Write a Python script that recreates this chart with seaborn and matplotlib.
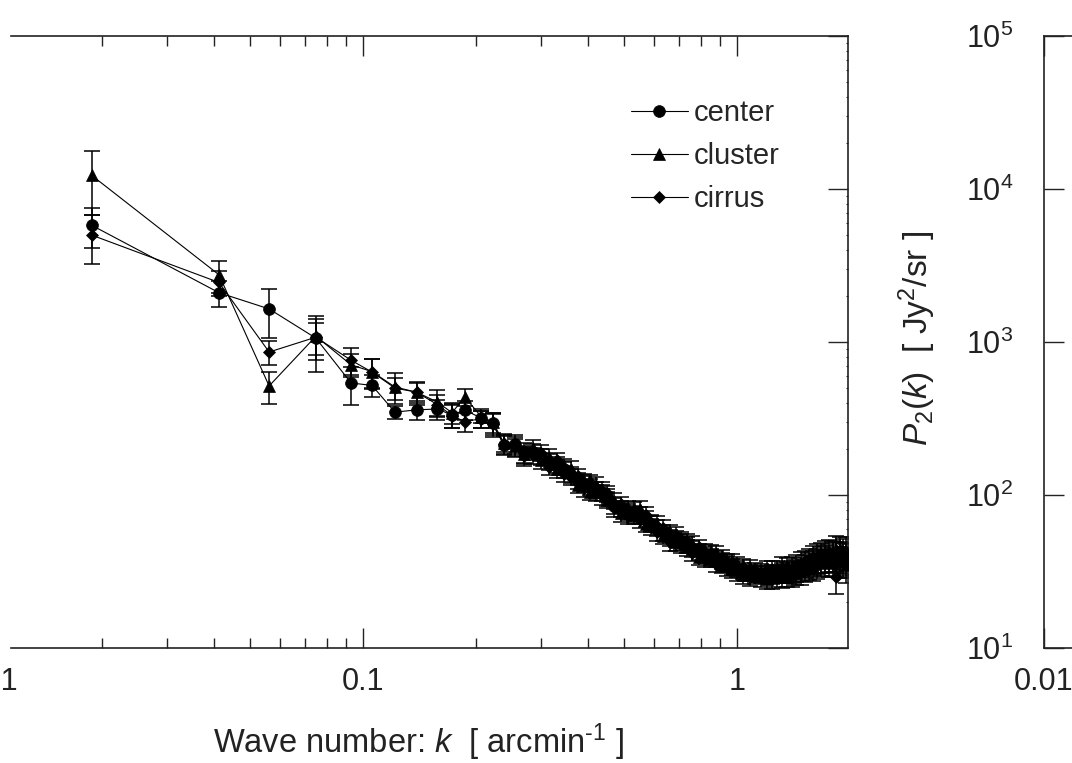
import numpy as np
import pandas as pd
import matplotlib
matplotlib.use("Agg")
import matplotlib.pyplot as plt
import seaborn as sns
from matplotlib.ticker import FixedLocator, FixedFormatter, LogLocator, NullFormatter, LogFormatterSciNotation

# ---------------- data ----------------
k_sparse = [0.0188, 0.0412, 0.0561, 0.0748, 0.0929, 0.1057, 0.1217, 0.139, 0.158,
            0.173, 0.187, 0.207, 0.222, 0.238, 0.255, 0.270]
center_sparse = [5800, 2100, 1645, 1060, 540, 520, 348, 360, 365, 333, 360, 318, 296, 212, 215, 190]
cluster_sparse = [12300, 2750, 516, 1090, 710, 640, 508, 470, 405, 345, 438, 325, 300, 220, 210, 185]
cirrus_sparse = [5000, 2450, 860, 1075, 760, 636, 500, 470, 390, 330, 302, 315, 290, 215, 205, 180]
center_err_sparse = [1700, 400, 580, 420, 150, 85, 35, 52, 55, 60, 50, 45, 50, 30, 30, 28]
cluster_err_sparse = [5500, 650, 120, 330, 120, 140, 115, 80, 80, 55, 55, 30, 45, 30, 30, 25]
cirrus_err_sparse = [1750, 450, 150, 250, 150, 140, 80, 70, 62, 55, 44, 40, 50, 30, 28, 25]

k_dense = [0.285, 0.30, 0.315, 0.33, 0.345, 0.36, 0.375, 0.39, 0.405, 0.42,
           0.435, 0.45, 0.47, 0.49, 0.51, 0.53, 0.55, 0.57, 0.59, 0.61,
           0.635, 0.66, 0.685, 0.71, 0.735, 0.76, 0.79, 0.82, 0.85, 0.88,
           0.91, 0.94, 0.97, 1.00, 1.04, 1.08, 1.12, 1.16, 1.20, 1.24,
           1.28, 1.32, 1.36, 1.40, 1.44, 1.48, 1.52, 1.56, 1.60, 1.64,
           1.68, 1.72, 1.76, 1.80, 1.84, 1.88, 1.92, 1.96]
center_dense = [192, 178, 165, 158, 147, 136, 124, 118, 114, 109,
                104, 97, 85, 81, 78, 76, 74, 70, 65, 61,
                57, 53, 52, 50, 47.5, 45, 42.5, 41, 39.5, 38.3,
                37.2, 35.5, 34.3, 33.3, 32.1, 31.2, 30.8, 30.5, 30.5, 30.5,
                30.8, 31.1, 31.5, 31.8, 32.2, 33.2, 34.4, 35.6, 36.5, 37.4,
                38.3, 38.9, 39.4, 40, 40.4, 40.2, 39.6, 38.8]
cluster_dense = [204, 169, 178, 147, 154, 148, 117, 122, 105, 117,
                 108, 93, 92, 76, 82, 74, 81, 65, 66, 65,
                 54, 57, 49, 51.5, 45.6, 48, 39.5, 43, 38.3, 41.7,
                 35, 36.9, 32.6, 35.3, 29.9, 33.7, 29.6, 31.4, 28.1, 32.6,
                 29.3, 34.2, 29.3, 33.7, 30.9, 36.2, 32.3, 37.4, 33.6, 40.4,
                 36.4, 41.6, 36.6, 41.6, 44.4, 37, 42, 34.9]
cirrus_dense = [182, 189, 153, 169, 138, 132, 133, 111, 121, 104,
                98, 103, 82, 87, 73, 80, 69, 74, 62, 57,
                61, 49, 55, 47.5, 49.9, 41.9, 45.5, 38.5, 41.9, 35.6,
                39.1, 33.4, 36.7, 31.3, 34, 29, 32.3, 28.7, 32.6, 28.4,
                32.6, 29.2, 33.7, 29.6, 34.8, 31.2, 36.8, 33.8, 39.4, 34.8,
                41, 36.6, 42.6, 37.2, 29, 43.4, 37.2, 42.7]
dense_rel_err = [0.12, 0.12, 0.12, 0.12, 0.12, 0.12, 0.12, 0.12, 0.12, 0.12,
                 0.12, 0.12, 0.12, 0.12, 0.12, 0.12, 0.12, 0.12, 0.12, 0.12,
                 0.12, 0.12, 0.12, 0.12, 0.12, 0.12, 0.12, 0.12, 0.12, 0.12,
                 0.12, 0.12, 0.12, 0.12, 0.12, 0.12, 0.12, 0.13, 0.13, 0.14,
                 0.14, 0.15, 0.15, 0.16, 0.16, 0.17, 0.17, 0.18, 0.18, 0.19,
                 0.19, 0.2, 0.2, 0.21, 0.22, 0.23, 0.23, 0.24]
assert len(k_dense) == len(center_dense) == len(cluster_dense) == len(cirrus_dense) == len(dense_rel_err)

series_names = ["center", "cluster", "cirrus"]
x_tick_vals = [0.01, 0.1, 1]
x_tick_labels = ["0.01", "0.1", "1"]
y_tick_vals = [1e1, 1e2, 1e3, 1e4, 1e5]

# ---------------- build table ----------------
rows = []
for name, sp, spe, de in [("center", center_sparse, center_err_sparse, center_dense),
                          ("cluster", cluster_sparse, cluster_err_sparse, cluster_dense),
                          ("cirrus", cirrus_sparse, cirrus_err_sparse, cirrus_dense)]:
    for k, p, e in zip(k_sparse, sp, spe):
        rows.append((name, k, p, e))
    for k, p, r in zip(k_dense, de, dense_rel_err):
        rows.append((name, k, p, p * r))
df = pd.DataFrame(rows, columns=["series", "k", "P", "err"])

# ---------------- style ----------------
sns.set_style("white")
plt.rcParams["font.family"] = ["Liberation Sans", "DejaVu Sans"]
plt.rcParams["mathtext.fontset"] = "custom"
plt.rcParams["mathtext.rm"] = "Liberation Sans"
plt.rcParams["mathtext.it"] = "Liberation Sans:italic"
plt.rcParams["mathtext.bf"] = "Liberation Sans:bold"
plt.rcParams["axes.linewidth"] = 1.2

W, H = 1072, 763
fig = plt.figure(figsize=(W / 100, H / 100), dpi=100)

FS = 22
TXT = "#222222"
bottom_px, top_px = 648, 36
ax_b = 1 - bottom_px / H
ax_h = (bottom_px - top_px) / H

# left panel
left_px, right_px = -11, 848
ax = fig.add_axes([left_px / W, ax_b, (right_px - left_px) / W, ax_h])

markers = {"center": ("o", 8.5), "cluster": ("^", 9), "cirrus": ("D", 6)}
for name in series_names:
    sub = df[df["series"] == name]
    ax.errorbar(sub["k"], sub["P"], yerr=sub["err"], fmt="none", ecolor="black",
                elinewidth=1.1, capsize=5.5, capthick=1.1, zorder=2)
for name in series_names:
    sub = df[df["series"] == name]
    m, ms = markers[name]
    sns.lineplot(data=sub, x="k", y="P", ax=ax, color="black", marker=m, markersize=ms,
                 markeredgecolor="black", markeredgewidth=0.5, linewidth=0.8,
                 label=name, estimator=None, sort=True, zorder=3)

ax.set_xscale("log")
ax.set_yscale("log")
ax.set_xlim(0.01, 1.98)
ax.set_ylim(10, 1e5)
ax.xaxis.set_major_locator(FixedLocator(x_tick_vals))
ax.xaxis.set_major_formatter(FixedFormatter(x_tick_labels))
ax.xaxis.set_minor_locator(LogLocator(base=10, subs=np.arange(2, 10)))
ax.xaxis.set_minor_formatter(NullFormatter())
ax.yaxis.set_major_locator(FixedLocator(y_tick_vals))
ax.yaxis.set_minor_locator(LogLocator(base=10, subs=np.arange(2, 10)))
ax.yaxis.set_minor_formatter(NullFormatter())
ax.tick_params(axis="x", which="both", direction="in", top=True, bottom=True,
               labelsize=FS, pad=14, colors=TXT)
ax.tick_params(axis="x", which="major", length=14.4, width=1.0)
ax.tick_params(axis="x", which="minor", length=7.2, width=1.0)
ax.tick_params(axis="y", which="both", direction="in", left=False, right=True,
               labelleft=False, labelright=False)
ax.tick_params(axis="y", which="major", length=14.4, width=1.0)
ax.tick_params(axis="y", which="minor", length=1.5, width=0.8)
for s in ax.spines.values():
    s.set_color(TXT)
spine_start = 10 ** ((11 - 737) / 374)
ax.spines["top"].set_bounds(spine_start, 1.98)
ax.spines["bottom"].set_bounds(spine_start, 1.98)

ax.set_xlabel(r"Wave number: $\mathit{k}$  [ arcmin$^{\text{-1}}$ ]", fontsize=23.5, color=TXT)
ax.xaxis.set_label_coords(0.5, -0.12)
ax.set_ylabel("")

ax.legend(loc="upper left", bbox_to_anchor=(631 / W, 1 - 99 / H),
          bbox_transform=fig.transFigure, frameon=False, fontsize=21,
          handlelength=1.95, handletextpad=0.2, labelspacing=0.52,
          borderpad=0, borderaxespad=0, markerscale=1.0)

# right panel (cut by the figure edge)
ax2 = fig.add_axes([1044 / W, ax_b, 0.8, ax_h])
ax2.set_xscale("log")
ax2.set_yscale("log")
ax2.set_xlim(0.01, 1.98)
ax2.set_ylim(10, 1e5)
ax2.xaxis.set_major_locator(FixedLocator(x_tick_vals))
ax2.xaxis.set_major_formatter(FixedFormatter(x_tick_labels))
ax2.xaxis.set_minor_locator(LogLocator(base=10, subs=np.arange(2, 10)))
ax2.xaxis.set_minor_formatter(NullFormatter())
ax2.yaxis.set_major_locator(FixedLocator(y_tick_vals))
ax2.yaxis.set_major_formatter(LogFormatterSciNotation())
ax2.yaxis.set_minor_locator(LogLocator(base=10, subs=np.arange(2, 10)))
ax2.yaxis.set_minor_formatter(NullFormatter())
ax2.tick_params(axis="x", which="both", direction="in", top=True, bottom=True,
                labelsize=FS, pad=14, colors=TXT)
ax2.tick_params(axis="x", which="major", length=14.4, width=1.0)
ax2.tick_params(axis="x", which="minor", length=7.2, width=1.0)
ax2.tick_params(axis="y", which="both", direction="in", left=True, right=False,
                labelsize=FS, pad=22, colors=TXT)
ax2.tick_params(axis="y", which="major", length=14.4, width=1.0)
ax2.tick_params(axis="y", which="minor", length=0, width=0)
for s in ax2.spines.values():
    s.set_color(TXT)
ax2.set_ylabel(r"$\mathit{P}_{2}(\mathit{k})$  [ Jy$^{2}$/sr ]", fontsize=24, color=TXT)
ax2.yaxis.set_label_coords(-0.1236, 0.505)

fig.savefig("out.png", dpi=100, facecolor="white")
